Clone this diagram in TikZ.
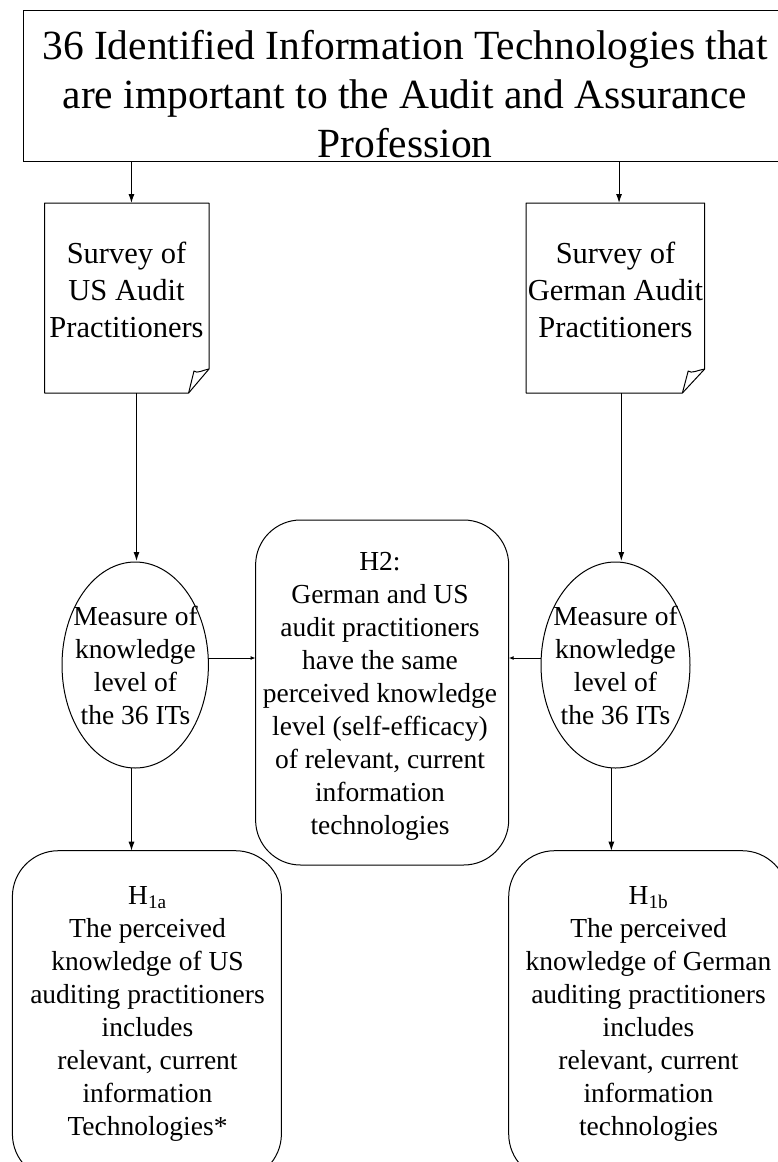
\documentclass[tikz,border=0pt]{standalone}
\usepackage{fontspec}
\setmainfont{Liberation Serif}
\usetikzlibrary{arrows.meta,calc,shapes.geometric}
\newcommand\fbig{\fontsize{41.5}{48.7}\selectfont}
\newcommand\fmid{\fontsize{30.5}{37}\selectfont}
\newcommand\fsml{\fontsize{27.5}{33}\selectfont}
\begin{document}
\begin{tikzpicture}[x=1pt,y=-1pt,
  line width=1pt,
  shp/.style={inner sep=0pt, outer sep=0pt},
  txt/.style={anchor=north, inner sep=0pt, align=center},
  arr/.style={-{Latex[length=9pt,width=6pt]}},
  arrs/.style={-{Latex[length=5pt,width=4pt]}},
  rbox/.style={shp, draw, rounded corners=46pt}]
\useasboundingbox (0,0) rectangle (778,1162);
\clip (0,0) rectangle (778,1162);
% shapes
\node[shp, draw, minimum width=767pt, minimum height=150.3pt] (top) at (406.5,85.85) {};
\node[shp, minimum width=164.3pt, minimum height=190pt] (sL) at (126.85,298) {};
\node[shp, minimum width=178.7pt, minimum height=190pt] (sR) at (615.35,298) {};
\node[shp, draw, ellipse, minimum width=146.4pt, minimum height=206pt] (eL) at (135.2,665) {};
\node[shp, draw, ellipse, minimum width=149pt, minimum height=206pt] (eR) at (615.5,665) {};
\node[rbox, rounded corners=45pt, minimum width=253.1pt, minimum height=345pt] (h2) at (382.15,692.5) {};
\node[rbox, minimum width=269pt, minimum height=329.3pt] (bL) at (146.9,1015.35) {};
\node[rbox, minimum width=279.3pt, minimum height=329.3pt] (bR) at (648.35,1015.35) {};
% document outlines
\draw[line join=round] (sL.north west) -- (sL.north east) -- ($(sL.south east)+(0,-24)$) -- ($(sL.south east)+(-20.4,0)$) -- (sL.south west) -- cycle;
\draw[line join=round] ($(sL.south east)+(-20.4,0)$) -- ($(sL.south east)+(-15,-22)$) .. controls ($(sL.south east)+(-12,-19)$) and ($(sL.south east)+(-6,-23)$) .. ($(sL.south east)+(0,-24)$);
\draw[line join=round] (sR.north west) -- (sR.north east) -- ($(sR.south east)+(0,-24)$) -- ($(sR.south east)+(-22.3,0)$) -- (sR.south west) -- cycle;
\draw[line join=round] ($(sR.south east)+(-22.3,0)$) -- ($(sR.south east)+(-16.5,-22)$) .. controls ($(sR.south east)+(-13.5,-19)$) and ($(sR.south east)+(-6.5,-23)$) .. ($(sR.south east)+(0,-24)$);
% texts
\node[txt, font=\fbig] (ttop) at (405,25.2) {\strut 36 Identified Information Technologies that\\ are important to the Audit and Assurance\\ Profession};
\node[txt, font=\fmid] (tsL) at (126.5,237.4) {\strut Survey of\\ US Audit\\ Practitioners};
\node[txt, font=\fmid] (tsR) at (615.5,237.4) {\strut Survey of\\ German Audit\\ Practitioners};
\node[txt, font=\fsml] (teL) at (135.5,601.9) {\strut Measure of\\ knowledge\\ level of\\ the 36 ITs};
\node[txt, font=\fsml] (teR) at (615.5,601.9) {\strut Measure of\\ knowledge\\ level of\\ the 36 ITs};
\node[txt, font=\fsml] (th2) at (380,546.9) {\strut H2:\\ German and US\\ audit practitioners\\ have the same\\ perceived knowledge\\ level (self-efficacy)\\ of relevant, current\\ information\\ technologies};
\node[txt, font=\fsml] (tbL) at (147.5,880.4) {\strut H\textsubscript{1a}\\ The perceived\\ knowledge of US\\ auditing practitioners\\ includes\\ relevant, current\\ information\\ Technologies*};
\node[txt, font=\fsml] (tbR) at (648.5,880.4) {\strut H\textsubscript{1b}\\ The perceived\\ knowledge of German\\ auditing practitioners\\ includes\\ relevant, current\\ information\\ technologies};
% connectors
\coordinate (a1) at ($(sL.north)+(4.6,0)$);
\coordinate (a2) at ($(sR.north)+(3.7,0)$);
\draw[arr] (a1 |- top.south) -- (a1);
\draw[arr] (a2 |- top.south) -- (a2);
\coordinate (a3) at ($(eL.north)+(1.3,-1)$);
\coordinate (a4) at ($(eR.north)+(5.8,-1)$);
\draw[arr] (a3 |- sL.south) -- (a3);
\draw[arr] (a4 |- sR.south) -- (a4);
\coordinate (a5) at ($(bL.north)+(-15.4,0)$);
\coordinate (a6) at ($(bR.north)+(-37,0)$);
\draw[arr] (a5 |- eL.south) -- (a5);
\draw[arr] (a6 |- eR.south) -- (a6);
\coordinate (a7) at ($(eL.east)+(0,-7)$);
\coordinate (a8) at ($(eR.west)+(0,-7)$);
\draw[arrs] (a7) -- (a7 -| h2.west);
\draw[arrs] (a8) -- (a8 -| h2.east);
\end{tikzpicture}
\end{document}
